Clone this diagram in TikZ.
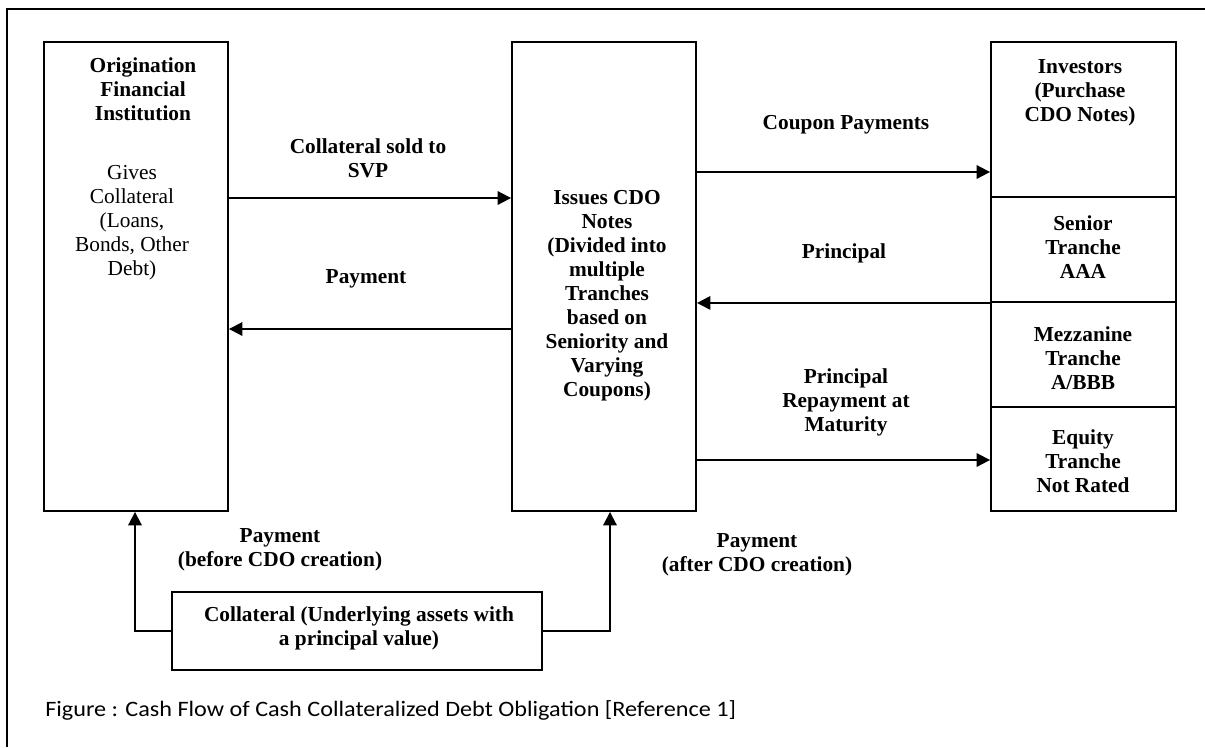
\documentclass[tikz,border=0pt]{standalone}
\usepackage{fontspec}
\setmainfont{Liberation Serif}
\newfontfamily\capfont[FakeStretch=1.1]{Carlito}
\usetikzlibrary{arrows.meta,positioning}

\begin{document}
\begin{tikzpicture}[x=0.75pt, y=-0.75pt, >={Triangle[length=10pt,width=10pt]},
    box/.style={draw, line width=1.4pt, inner sep=0pt},
    lbl/.style={align=center, font=\bfseries\fontsize{16}{18}\selectfont},
    txt/.style={align=center, font=\fontsize{16}{18}\selectfont},
    flow/.style={->, line width=1.4pt}]
  \useasboundingbox (0,0) rectangle (1205,747);

  % Frame
  \draw[line width=1.2pt] (7,747) -- (7,9) -- (1205,9);

  % Boxes
  \node[box, minimum width=184pt*0.75, minimum height=469pt*0.75] (orig) at (136,276.5) {};
  \node[box, minimum width=184pt*0.75, minimum height=469pt*0.75] (spv) at (604,276.5) {};
  \node[box, minimum width=185pt*0.75, minimum height=155pt*0.75] (inv) at (1083.5,119.5) {};
  \node[box, minimum width=185pt*0.75, minimum height=105pt*0.75] (senior) at (1083.5,249.5) {};
  \node[box, minimum width=185pt*0.75, minimum height=105pt*0.75] (mezz) at (1083.5,354.5) {};
  \node[box, minimum width=185pt*0.75, minimum height=104pt*0.75] (equity) at (1083.5,459) {};
  \node[box, minimum width=370pt*0.75, minimum height=78pt*0.75] (coll) at (357,631) {};

  % Box texts
  \node[lbl] (origT) at (143,89) {Origination\\Financial\\Institution};
  \node[txt] (origG) at (132,223) {Gives\\Collateral\\(Loans,\\Bonds, Other\\Debt)};
  \node[lbl] (spvT) at (607,296) {Issues CDO\\Notes\\(Divided into\\multiple\\Tranches\\based on\\Seniority and\\Varying\\Coupons)};
  \node[lbl] (invT) at (1080,93) {Investors\\(Purchase\\CDO Notes)};
  \node[lbl] (seniorT) at (1083,247) {Senior\\Tranche\\AAA};
  \node[lbl] (mezzT) at (1083,358) {Mezzanine\\Tranche\\A/BBB};
  \node[lbl] (equityT) at (1083,461) {Equity\\Tranche\\Not Rated};
  \node[lbl] (collT) at (359,628.5) {Collateral (Underlying assets with\\a principal value)};

  % Flows between boxes
  \coordinate (sold) at (0,198);
  \coordinate (pay) at (0,329);
  \coordinate (coupon) at (0,172);
  \coordinate (repay) at (0,460);
  \draw[flow] (orig.east |- sold) -- (spv.west |- sold);
  \draw[flow] (spv.west |- pay) -- (orig.east |- pay);
  \draw[flow] (spv.east |- coupon) -- (inv.west |- coupon);
  \draw[flow] (senior.south west) -- (spv.east |- senior.south);
  \draw[flow] (spv.east |- repay) -- (equity.west |- repay);

  % Payments from collateral
  \coordinate (before) at (135,0);
  \coordinate (after) at (610,0);
  \draw[flow] (coll.west) -| (orig.south -| before);
  \draw[flow] (coll.east) -| (spv.south -| after);

  % Flow labels
  \node[lbl] (soldL) at (368,158) {Collateral sold to\\SVP};
  \node[lbl] (payL) at (366,279) {Payment};
  \node[lbl] (couponL) at (846,125) {Coupon Payments};
  \node[lbl] (princL) at (844,253) {Principal};
  \node[lbl] (repayL) at (846,402) {Principal\\Repayment at\\Maturity};
  \node[lbl] (beforeL) at (280,550) {Payment\\(before CDO creation)};
  \node[lbl] (afterL) at (757,555) {Payment\\(after CDO creation)};

  % Caption
  \node[anchor=west, inner sep=0pt, font=\capfont\fontsize{16.5}{18}\selectfont] (cap) at (45,710)
    {Figure : Cash Flow of Cash Collateralized Debt Obligation [Reference 1]};
\end{tikzpicture}
\end{document}
